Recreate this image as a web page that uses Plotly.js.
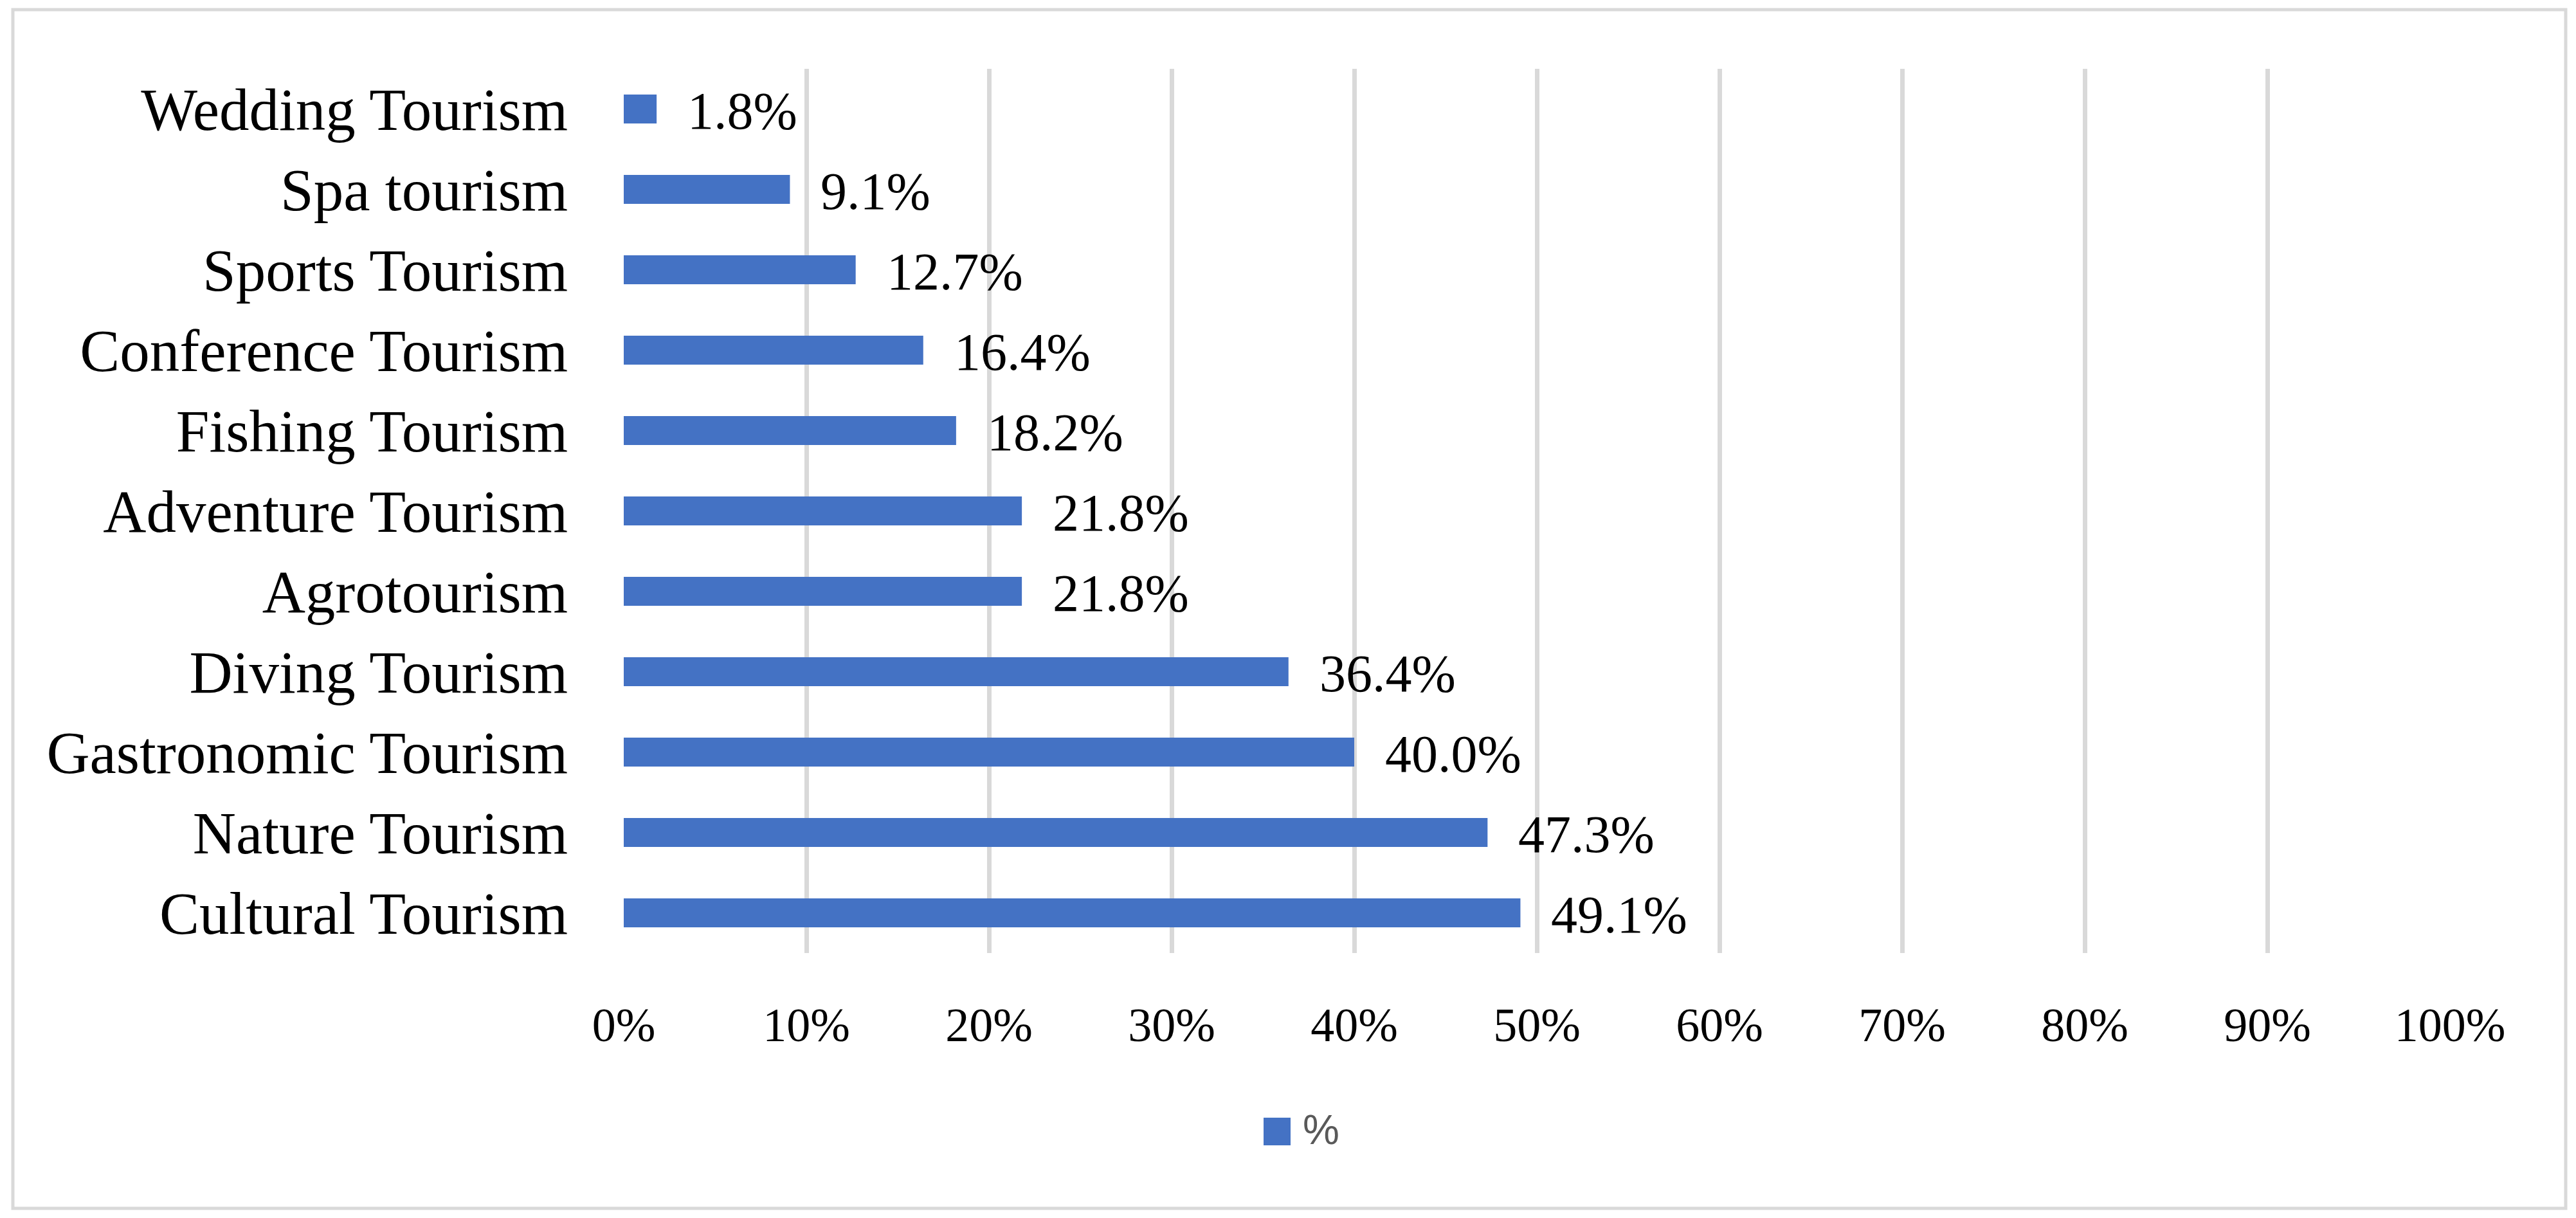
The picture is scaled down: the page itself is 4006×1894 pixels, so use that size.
<!DOCTYPE html>
<html>
<head>
<meta charset="utf-8">
<script src="https://cdn.plot.ly/plotly-3.0.1.min.js"></script>
<style>html,body{margin:0;padding:0;background:#fff;} #chart{width:4006px;height:1894px;}</style>
</head>
<body>
<div id="chart"></div>
<script>
// Data (bottom to top)
var categories = ["Cultural Tourism", "Nature Tourism", "Gastronomic Tourism", "Diving Tourism", "Agrotourism", "Adventure Tourism", "Fishing Tourism", "Conference Tourism", "Sports Tourism", "Spa tourism", "Wedding Tourism"];
var values = [49.1, 47.3, 40.0, 36.4, 21.8, 21.8, 18.2, 16.4, 12.7, 9.1, 1.8];
var seriesName = "%";
var tickValues = [0, 0.1, 0.2, 0.3, 0.4, 0.5, 0.6, 0.7, 0.8, 0.9, 1.0];

var W = 4006, H = 1894;
var mL = 970, mR = 196, mT = 107, mB = 412;
var pw = W - mL - mR, ph = H - mT - mB;
function px(x) { return (x - mL) / pw; }
function py(y) { return (H - mB - y) / ph; }

var fractions = values.map(function (v) { return v / 100; });

var trace = {
  type: "bar",
  orientation: "h",
  y: categories,
  x: fractions,
  name: seriesName,
  marker: { color: "#4472C4" },
  hoverinfo: "skip",
  showlegend: false
};

var annotations = values.map(function (v, i) {
  return {
    x: fractions[i], y: categories[i], xref: "x", yref: "y",
    text: v.toFixed(1) + "%",
    showarrow: false, xanchor: "left", yanchor: "middle",
    xshift: 46, yshift: -3,
    font: { family: "Liberation Serif", size: 82, color: "#000" }
  };
});
annotations.push({
  xref: "paper", yref: "paper", x: px(2024), y: py(1757),
  text: seriesName, showarrow: false, xanchor: "left", yanchor: "middle",
  font: { family: "Liberation Sans", size: 64, color: "#595959" }
});

var layout = {
  width: W, height: H,
  margin: { l: mL, r: mR, t: mT, b: mB, pad: 0 },
  paper_bgcolor: "#fff", plot_bgcolor: "#fff",
  font: { family: "Liberation Serif", color: "#000" },
  bargap: 0.64,
  showlegend: false,
  xaxis: {
    range: [0, 1], tickvals: tickValues, tickformat: ".0%",
    showgrid: true, gridcolor: "#d9d9d9", gridwidth: 7,
    zeroline: false, showline: false, ticks: "",
    ticklabelstandoff: 62,
    tickfont: { family: "Liberation Serif", size: 74, color: "#000" },
    fixedrange: true
  },
  yaxis: {
    type: "category", categoryorder: "array", categoryarray: categories,
    range: [-0.5, categories.length - 0.5],
    showgrid: false, zeroline: false, showline: false, ticks: "",
    ticklabelstandoff: 86,
    tickfont: { family: "Liberation Serif", size: 93, color: "#000" },
    fixedrange: true
  },
  annotations: annotations,
  shapes: [
    { type: "rect", xref: "paper", yref: "paper",
      x0: px(1965), x1: px(2007), y0: py(1781), y1: py(1738),
      fillcolor: "#4472C4", line: { width: 0 } },
    { type: "rect", xref: "paper", yref: "paper",
      x0: px(20), x1: px(3990), y0: py(1879), y1: py(15),
      fillcolor: "rgba(0,0,0,0)", line: { color: "#d9d9d9", width: 5 } }
  ]
};

Plotly.newPlot("chart", [trace], layout, { staticPlot: true, displayModeBar: false });
</script>
</body>
</html>
